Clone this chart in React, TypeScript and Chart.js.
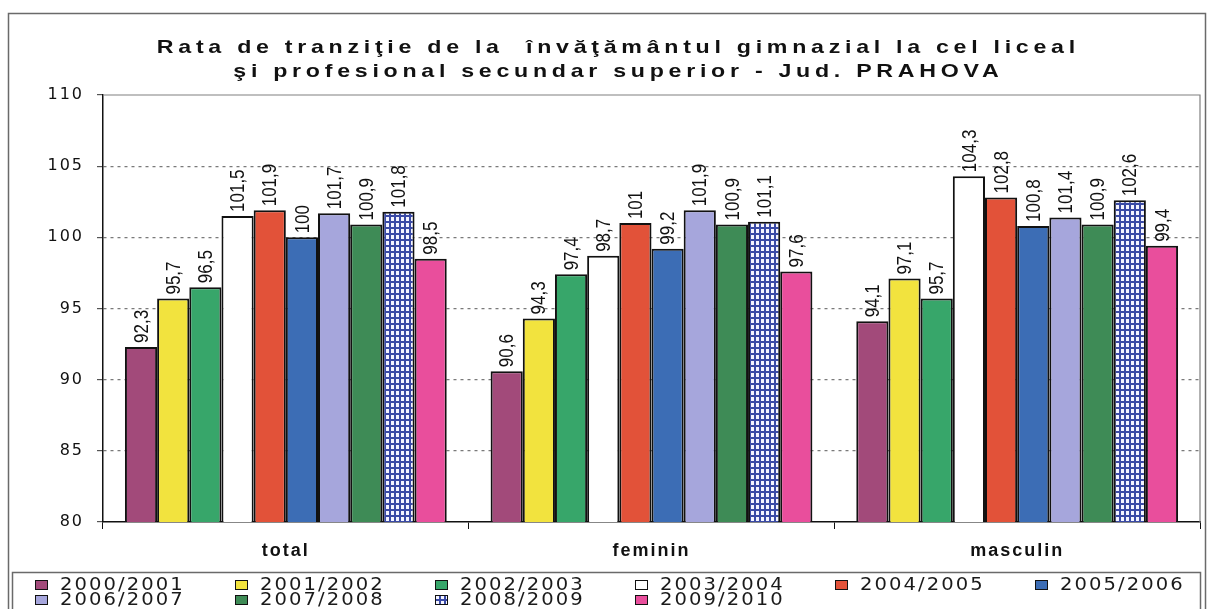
import React, { useEffect, useRef } from "react";
import { Chart, registerables } from "chart.js";

Chart.register(...registerables);

const categories = ["total", "feminin", "masculin"];
const seriesLabels = [
  "2000/2001", "2001/2002", "2002/2003", "2003/2004", "2004/2005",
  "2005/2006", "2006/2007", "2007/2008", "2008/2009", "2009/2010",
];
const v2000 = [92.3, 90.6, 94.1];
const v2001 = [95.7, 94.3, 97.1];
const v2002 = [96.5, 97.4, 95.7];
const v2003 = [101.5, 98.7, 104.3];
const v2004 = [101.9, 101, 102.8];
const v2005 = [100, 99.2, 100.8];
const v2006 = [101.7, 101.9, 101.4];
const v2007 = [100.9, 100.9, 100.9];
const v2008 = [101.8, 101.1, 102.6];
const v2009 = [98.5, 97.6, 99.4];
const seriesValues = [v2000, v2001, v2002, v2003, v2004, v2005, v2006, v2007, v2008, v2009];
const seriesColors = [
  "#a24a7a", "#f2e33e", "#37a66a", "#ffffff", "#e25239",
  "#3c6db5", "#a6a6dc", "#3e8b56", "PATTERN", "#e94e9c",
];
const titleLines = [
  "Rata de tranziţie de la  învăţământul gimnazial la cel liceal",
  "şi profesional secundar superior - Jud. PRAHOVA",
];
const yMin = 80;
const yMax = 110;
const yStep = 5;

function makePattern(): CanvasPattern | string {
  const c = document.createElement("canvas");
  c.width = 5;
  c.height = 6;
  const x = c.getContext("2d");
  if (!x) return "#8080c0";
  x.fillStyle = "#3a4aa6";
  x.fillRect(0, 0, 5, 6);
  x.fillStyle = "#f4f4ff";
  x.fillRect(1, 1, 3, 4);
  const p = x.createPattern(c, "repeat");
  return p || "#8080c0";
}

function stretchedText(
  ctx: CanvasRenderingContext2D,
  text: string,
  x: number,
  y: number,
  sx: number,
  spacing: number,
  align: "left" | "center"
) {
  ctx.save();
  (ctx as any).letterSpacing = spacing + "px";
  const w = ctx.measureText(text).width;
  ctx.translate(x, y);
  ctx.scale(sx, 1);
  ctx.textAlign = "left";
  ctx.fillText(text, align === "center" ? -w / 2 + spacing / 2 : 0, 0);
  ctx.restore();
}

export default function App() {
  const ref = useRef<HTMLCanvasElement | null>(null);

  useEffect(() => {
    const canvas = ref.current;
    if (!canvas) return;
    const pattern = makePattern();
    const colors = seriesColors.map((c) => (c === "PATTERN" ? pattern : c));

    const framePlugin = {
      id: "framePlugin",
      beforeDraw(chart: any) {
        const ctx = chart.ctx as CanvasRenderingContext2D;
        ctx.save();
        ctx.fillStyle = "#ffffff";
        ctx.fillRect(0, 0, chart.width, chart.height);
        ctx.strokeStyle = "#6a6a6a";
        ctx.lineWidth = 1.5;
        ctx.strokeRect(8.5, 13.5, 1197, 620);
        ctx.fillStyle = "#111";
        ctx.font = 'bold 19px "Liberation Sans", Arial, sans-serif';
        ctx.textBaseline = "alphabetic";
        (ctx as any).letterSpacing = "0px";
        const sx = 1.22;
        const w = ctx.measureText(titleLines[0]).width;
        const sp = (923 / sx - w) / titleLines[0].length;
        stretchedText(ctx, titleLines[0], 616, 53, sx, sp, "center");
        stretchedText(ctx, titleLines[1], 616, 77, sx, sp, "center");
        ctx.restore();
        (ctx as any).letterSpacing = "2px";
      },
      afterDatasetsDraw(chart: any) {
        const ctx = chart.ctx as CanvasRenderingContext2D;
        const area = chart.chartArea;
        ctx.save();
        (ctx as any).letterSpacing = "0px";
        ctx.strokeStyle = "#808080";
        ctx.lineWidth = 1.2;
        ctx.beginPath();
        ctx.moveTo(area.left, area.top);
        ctx.lineTo(area.right, area.top);
        ctx.lineTo(area.right, area.bottom);
        ctx.stroke();
        ctx.fillStyle = "#111";
        ctx.font = '17px "Liberation Sans", Arial, sans-serif';
        ctx.textAlign = "left";
        ctx.textBaseline = "middle";
        chart.data.datasets.forEach((ds: any, di: number) => {
          const meta = chart.getDatasetMeta(di);
          meta.data.forEach((el: any, i: number) => {
            const v = ds.data[i];
            const txt = String(v).replace(".", ",");
            ctx.save();
            ctx.translate(el.x + 1, el.y - 4);
            ctx.rotate(-Math.PI / 2);
            ctx.scale(1, 1.2);
            ctx.fillText(txt, 0, 0);
            ctx.restore();
          });
        });
        ctx.restore();
      },
      afterDraw(chart: any) {
        const ctx = chart.ctx as CanvasRenderingContext2D;
        ctx.save();
        ctx.strokeStyle = "#6a6a6a";
        ctx.lineWidth = 1.5;
        ctx.strokeRect(12.5, 572.5, 1188, 60);
        ctx.font = '17px "DejaVu Sans", sans-serif';
        ctx.textBaseline = "middle";
        chart.data.datasets.forEach((ds: any, i: number) => {
          const col = i % 6;
          const row = Math.floor(i / 6);
          const x = 35 + col * 200;
          const y = 585 + row * 15;
          ctx.fillStyle = ds.backgroundColor;
          ctx.fillRect(x, y - 4.5, 13, 9);
          ctx.strokeStyle = "#111";
          ctx.lineWidth = 1;
          ctx.strokeRect(x + 0.5, y - 4.5, 12, 9);
          ctx.fillStyle = "#1a1a1a";
          stretchedText(ctx, ds.label, x + 25, y + 1, 1.15, 1.8, "left");
        });
        ctx.restore();
      },
    };

    const chart = new Chart(canvas, {
      type: "bar",
      data: {
        labels: categories,
        datasets: seriesLabels.map((label, i) => ({
          label,
          data: seriesValues[i],
          backgroundColor: colors[i] as any,
          borderColor: "#111",
          borderWidth: 2,
          barPercentage: 1,
          categoryPercentage: 0.88,
        })),
      },
      options: {
        animation: false,
        responsive: false,
        devicePixelRatio: 1,
        layout: { padding: { top: 95, right: 11, left: 0, bottom: 0 } },
        plugins: {
          legend: { display: false },
          title: { display: false },
          tooltip: { enabled: false },
        },
        scales: {
          x: {
            afterFit: (s: any) => {
              s.height = 87;
            },
            grid: {
              drawOnChartArea: false,
              tickLength: 7,
              tickColor: "#111",
              offset: true,
            },
            border: { color: "#111", width: 1.5 },
            ticks: {
              color: "#111",
              padding: 11,
              font: { family: '"Liberation Sans", Arial, sans-serif', size: 18, weight: "bold" },
            },
          },
          y: {
            min: yMin,
            max: yMax,
            afterFit: (s: any) => {
              s.width = 103;
            },
            grid: {
              color: (c: any) =>
                c.tick && (c.tick.value === yMax || c.tick.value === yMin) ? "rgba(0,0,0,0)" : "#7a7a7a",
              lineWidth: 1.2,
              tickLength: 6,
              tickColor: "#555",
            },
            border: { color: "#111", width: 1.5, dash: [3, 4] },
            ticks: {
              stepSize: yStep,
              color: "#111",
              padding: 13,
              font: { family: '"DejaVu Sans", sans-serif', size: 16 },
            },
          },
        },
      },
      plugins: [framePlugin],
    } as any);

    return () => chart.destroy();
  }, []);

  return (
    <div style={{ position: "absolute", left: 0, top: 0, width: 1211, height: 609, background: "#fff" }}>
      <canvas ref={ref} width={1211} height={609} style={{ display: "block" }} />
    </div>
  );
}
